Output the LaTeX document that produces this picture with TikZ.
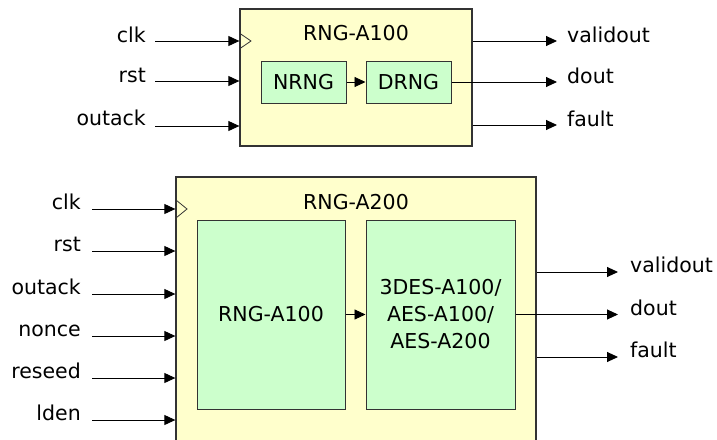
\documentclass[tikz,border=0pt]{standalone}
\usepackage{fontspec}
\setmainfont{DejaVu Sans}
\usetikzlibrary{arrows.meta}
\definecolor{ybox}{HTML}{FFFFCC}
\definecolor{gbox}{HTML}{CCFFCC}
\definecolor{bord}{HTML}{333333}
\begin{document}
\begin{tikzpicture}[x=1pt,y=-1pt,
  font=\fontsize{20.5}{27}\selectfont,
  outer/.style={draw=bord,line width=1.3pt,fill=ybox,inner sep=0pt},
  inner/.style={draw=bord,line width=1pt,fill=gbox,inner sep=0pt,align=center},
  sig/.style={line width=0.9pt,-{Triangle[length=11pt,width=10pt]}},
  lab/.style={inner sep=0pt},
  clkmark/.style={draw=bord,line width=0.8pt,fill=none}]
\useasboundingbox (0,0) rectangle (717,439);
\clip (0,0) rectangle (717,439);
% ---------- top block ----------
\node[outer,minimum width=232pt,minimum height=137pt] (A) at (356,77.5) {};
\node[lab] (At) at (356,33) {RNG-A100};
\node[inner,minimum width=85pt,minimum height=42pt] (N) at (303.5,82) {NRNG};
\node[inner,minimum width=85pt,minimum height=42pt] (D) at (408.5,82) {DRNG};
\draw[sig] (N.east) -- (D.west);
\draw[clkmark] (240,33.5) -- (251,41) -- (240,48.5);
\coordinate (ci1) at (155,41);
\coordinate (ci2) at (155,81);
\coordinate (ci3) at (155,126);
\node[lab,anchor=base east] (l1) at (146,42) {clk};
\node[lab,anchor=base east] (l2) at (146,82) {rst};
\node[lab,anchor=base east] (l3) at (146,125) {outack};
\draw[sig] (ci1) -- (ci1 -| A.west);
\draw[sig] (ci2) -- (ci2 -| A.west);
\draw[sig] (ci3) -- (ci3 -| A.west);
\coordinate (co1) at (557,41);
\coordinate (co2) at (557,82);
\coordinate (co3) at (557,125);
\draw[sig] (co1 -| A.east) -- (co1);
\draw[sig] (D.east) -- (D.east -| co2);
\draw[sig] (co3 -| A.east) -- (co3);
\node[lab,anchor=base west] (r1) at (567,42) {validout};
\node[lab,anchor=base west] (r2) at (567,83) {dout};
\node[lab,anchor=base west] (r3) at (567,126) {fault};
% ---------- bottom block ----------
\node[outer,minimum width=360pt,minimum height=270pt] (B) at (356,312) {};
\node[lab] (Bt) at (356,202) {RNG-A200};
\node[inner,minimum width=148pt,minimum height=189pt] (R) at (271,314.5) {RNG-A100};
\node[inner,minimum width=149pt,minimum height=189pt] (E) at (440.5,314.5) {3DES-A100/\\AES-A100/\\AES-A200};
\draw[sig] (R.east) -- (E.west);
\draw[clkmark] (176,200) -- (187,209) -- (176,218);
\coordinate (bi1) at (92,209);
\coordinate (bi2) at (92,251);
\coordinate (bi3) at (92,294);
\coordinate (bi4) at (92,336);
\coordinate (bi5) at (92,378);
\coordinate (bi6) at (92,420);
\node[lab,anchor=base east] (m1) at (81,209) {clk};
\node[lab,anchor=base east] (m2) at (81,251) {rst};
\node[lab,anchor=base east] (m3) at (81,294) {outack};
\node[lab,anchor=base east] (m4) at (81,336) {nonce};
\node[lab,anchor=base east] (m5) at (81,378) {reseed};
\node[lab,anchor=base east] (m6) at (81,420) {lden};
\foreach \i in {1,...,6} {\draw[sig] (bi\i) -- (bi\i -| B.west);}
\coordinate (bo1) at (618,272);
\coordinate (bo2) at (618,315);
\coordinate (bo3) at (618,357);
\draw[sig] (bo1 -| B.east) -- (bo1);
\draw[sig] (E.east) -- (E.east -| bo2);
\draw[sig] (bo3 -| B.east) -- (bo3);
\node[lab,anchor=base west] (s1) at (630,272) {validout};
\node[lab,anchor=base west] (s2) at (630,315) {dout};
\node[lab,anchor=base west] (s3) at (630,357) {fault};
\end{tikzpicture}
\end{document}
